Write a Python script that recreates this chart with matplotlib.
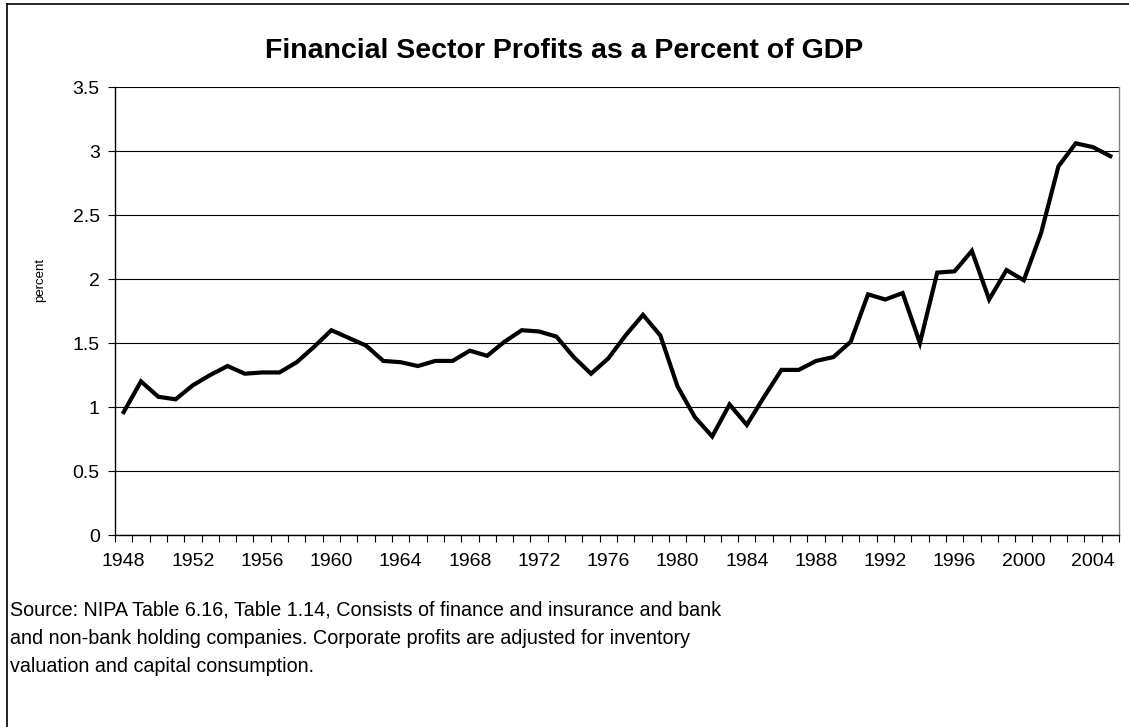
import matplotlib
matplotlib.use("Agg")
import matplotlib.pyplot as plt
from matplotlib.lines import Line2D

plt.rcParams["font.family"] = ["Liberation Sans", "DejaVu Sans"]

# Dados
years = list(range(1948, 2006))
profits = [0.96, 1.20, 1.08, 1.06, 1.17, 1.25, 1.32, 1.26, 1.27, 1.27,
           1.35, 1.47, 1.60, 1.54, 1.48, 1.36, 1.35, 1.32, 1.36, 1.36,
           1.44, 1.40, 1.51, 1.60, 1.59, 1.55, 1.39, 1.26, 1.38, 1.56,
           1.72, 1.56, 1.16, 0.92, 0.77, 1.02, 0.86, 1.08, 1.29, 1.29,
           1.36, 1.39, 1.51, 1.88, 1.84, 1.89, 1.50, 2.05, 2.06, 2.22,
           1.84, 2.07, 1.99, 2.36, 2.88, 3.06, 3.03, 2.96]
y_ticks = [0, 0.5, 1, 1.5, 2, 2.5, 3, 3.5]
label_years = list(range(1948, 2006, 4))

W, H = 1129, 727
fig = plt.figure(figsize=(W / 100, H / 100), dpi=100)
ax = fig.add_axes([115 / W, 1 - 535 / H, (1119 - 115) / W, (535 - 87) / H])

pos = list(range(len(years)))
ax.plot(pos, profits, color="black", linewidth=3, solid_joinstyle="miter", zorder=3)

ax.set_xlim(-0.5, len(years) - 0.5)
ax.set_ylim(0, 3.5)

ax.set_yticks(y_ticks)
ax.set_yticklabels(["%g" % v for v in y_ticks])
ax.yaxis.grid(True, color="black", linewidth=0.8)
ax.set_axisbelow(True)

ax.set_xticks([years.index(y) for y in label_years])
ax.set_xticklabels([str(y) for y in label_years])
ax.set_xticks([p - 0.5 for p in pos] + [len(years) - 0.5], minor=True)
ax.tick_params(axis="x", which="major", length=0, pad=13, labelsize=14)
ax.tick_params(axis="x", which="minor", length=5, width=0.8, direction="out")
ax.tick_params(axis="y", length=5, width=0.8, direction="out", pad=6, labelsize=14)

ax.spines["top"].set_visible(False)
ax.spines["right"].set_color("#808080")
ax.spines["left"].set_color("black")
ax.spines["bottom"].set_color("black")
for s in ax.spines.values():
    s.set_linewidth(1)

fig.text(40 / W, 1 - 280 / H, "percent", rotation=90, ha="center", va="center",
         fontsize=9.5)

fig.text(0.5, 1 - 51 / H, "Financial Sector Profits as a Percent of GDP",
         ha="center", va="center", fontsize=20.5, fontweight="bold")

fig.text(10 / W, 1 - 600 / H,
         "Source: NIPA Table 6.16, Table 1.14, Consists of finance and insurance and bank\n"
         "and non-bank holding companies. Corporate profits are adjusted for inventory\n"
         "valuation and capital consumption.",
         ha="left", va="top", fontsize=14.2, linespacing=1.64)

# Moldura do gráfico (esquerda e topo)
fig.add_artist(Line2D([7 / W, 7 / W], [0, 1 - 4 / H], transform=fig.transFigure,
                      color="black", linewidth=1.2))
fig.add_artist(Line2D([7 / W, 1], [1 - 4 / H, 1 - 4 / H], transform=fig.transFigure,
                      color="black", linewidth=1.2))

fig.savefig("out.png", dpi=100)
plt.close(fig)
